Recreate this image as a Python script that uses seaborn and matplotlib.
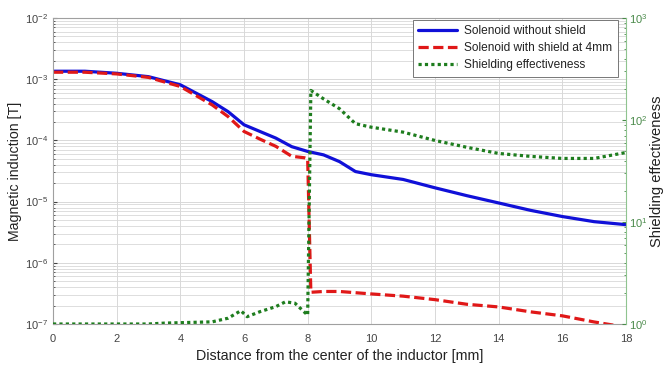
import numpy as np
import pandas as pd
import matplotlib
matplotlib.use("Agg")
import matplotlib.pyplot as plt
import seaborn as sns
from matplotlib.ticker import LogLocator, FixedLocator, NullFormatter

# ---------------- data ----------------
x_blue = [0, 1, 2, 3, 4, 5, 5.5, 6, 6.5, 7, 7.5, 8, 8.5, 9, 9.5, 10, 11, 12, 13, 14, 15, 16, 17, 18]
b_no_shield = [1.35e-3, 1.35e-3, 1.25e-3, 1.1e-3, 8.1e-4, 4.3e-4, 2.95e-4, 1.8e-4, 1.4e-4, 1.09e-4,
               7.9e-5, 6.6e-5, 5.8e-5, 4.5e-5, 3.1e-5, 2.75e-5, 2.3e-5, 1.68e-5, 1.25e-5, 9.5e-6,
               7.2e-6, 5.7e-6, 4.7e-6, 4.2e-6]

x_red = [0, 1, 2, 3, 4, 5, 5.5, 6, 6.5, 7, 7.5, 7.9, 8.0, 8.1, 8.5, 9, 10, 11, 12, 13, 14, 15, 16, 17, 17.6]
b_shield = [1.3e-3, 1.3e-3, 1.22e-3, 1.07e-3, 7.6e-4, 3.8e-4, 2.45e-4, 1.4e-4, 1.05e-4, 8.0e-5,
            5.5e-5, 5.2e-5, 5.0e-5, 3.3e-7, 3.4e-7, 3.4e-7, 3.1e-7, 2.85e-7, 2.5e-7, 2.1e-7,
            1.9e-7, 1.58e-7, 1.36e-7, 1.08e-7, 9.6e-8]

x_green = [0, 1, 2, 3, 3.5, 4, 5, 5.5, 5.9, 6.1, 6.5, 7, 7.3, 7.6, 8.0, 8.1, 8.5, 9, 9.5, 10,
           11, 12, 13, 14, 15, 16, 17, 18]
effectiveness = [1.0, 1.0, 1.0, 1.0, 1.02, 1.03, 1.05, 1.14, 1.35, 1.18, 1.32, 1.48, 1.65, 1.6,
                 1.22, 195, 161, 129, 92, 85, 76, 63, 54, 47, 44, 42, 42, 48]

labels = ["Solenoid without shield", "Solenoid with shield at 4mm", "Shielding effectiveness"]
x_ticks = [0, 2, 4, 6, 8, 10, 12, 14, 16, 18]

# ---------------- style ----------------
sns.set_style("whitegrid")
plt.rcParams['font.family'] = ['Liberation Sans', 'DejaVu Sans']
plt.rcParams['mathtext.fontset'] = 'custom'
plt.rcParams['mathtext.rm'] = 'Liberation Sans'
plt.rcParams['mathtext.it'] = 'Liberation Sans:italic'

fig = plt.figure(figsize=(6.65, 3.69), dpi=100)
ax = fig.add_axes([53/665, 1 - 324/369, (626 - 53)/665, (324 - 18)/369])
ax2 = ax.twinx()

blue = '#1010d8'
red = '#e01818'
green = '#1e7d1e'

sns.lineplot(x=x_blue, y=b_no_shield, ax=ax, color=blue, lw=2.3, sort=False, legend=False)
sns.lineplot(x=x_red, y=b_shield, ax=ax, color=red, lw=2.3, sort=False, legend=False)
l_red = ax.lines[-1]
l_red.set_dashes((3.2, 1.4))
l_blue = ax.lines[0]
sns.lineplot(x=x_green, y=effectiveness, ax=ax2, color=green, lw=2.3, sort=False, legend=False)
l_green = ax2.lines[-1]
l_green.set_dashes((1, 1))

ax.set_yscale('log')
ax.set_ylim(1e-7, 1e-2)
ax.set_xlim(0, 18)
ax.xaxis.set_major_locator(FixedLocator(x_ticks))
ax.yaxis.set_major_locator(LogLocator(base=10, numticks=10))
ax.yaxis.set_minor_locator(LogLocator(base=10, subs=np.arange(2, 10), numticks=20))
ax.yaxis.set_minor_formatter(NullFormatter())

ax2.set_yscale('log')
ax2.set_ylim(1, 1000)
ax2.yaxis.set_major_locator(LogLocator(base=10, numticks=10))
ax2.yaxis.set_minor_locator(LogLocator(base=10, subs=np.arange(2, 10), numticks=20))
ax2.yaxis.set_minor_formatter(NullFormatter())
ax2.grid(False)

gcol = '#d8d8d8'
ax.grid(True, which='major', axis='both', color=gcol, lw=0.7)
ax.grid(True, which='minor', axis='y', color=gcol, lw=0.6)
ax.set_axisbelow(True)

txt = '#444444'
ax.tick_params(axis='both', which='both', direction='in', labelsize=8, colors=txt, length=3)
ax.tick_params(axis='y', which='minor', length=1.5)
ax.tick_params(axis='x', pad=7)
ax2.tick_params(axis='y', which='both', direction='in', labelsize=8, colors='#4a8a4a', length=3, pad=2)
ax2.tick_params(axis='y', which='minor', length=1.5)

for s in ['left', 'bottom', 'top']:
    ax.spines[s].set_color('#a0a0a0')
    ax.spines[s].set_linewidth(0.8)
ax.spines['right'].set_visible(False)
for s in ['left', 'bottom', 'top']:
    ax2.spines[s].set_visible(False)
ax2.spines['right'].set_color('#8fc48f')
ax2.spines['right'].set_linewidth(0.8)

ax.set_xlabel("Distance from the center of the inductor [mm]", fontsize=10.3, color='#222222', labelpad=4)
ax.set_ylabel("Magnetic induction [T]", fontsize=10.2, color='#222222', labelpad=2)
ax2.set_ylabel("Shielding effectiveness", fontsize=10.6, color='#222222', labelpad=2)

leg = ax2.legend([l_blue, l_red, l_green], labels, loc='upper right',
                 bbox_to_anchor=((618 - 53)/573, 1 - 2/306), borderaxespad=0,
                 fontsize=8.6, frameon=True, fancybox=False, handlelength=3.3,
                 handletextpad=0.6, labelspacing=0.42, borderpad=0.45)
leg.get_frame().set_edgecolor('#777777')
leg.get_frame().set_linewidth(0.7)
leg.get_frame().set_alpha(1)
for t in leg.get_texts():
    t.set_color('#222222')

fig.savefig("out.png", dpi=100)
